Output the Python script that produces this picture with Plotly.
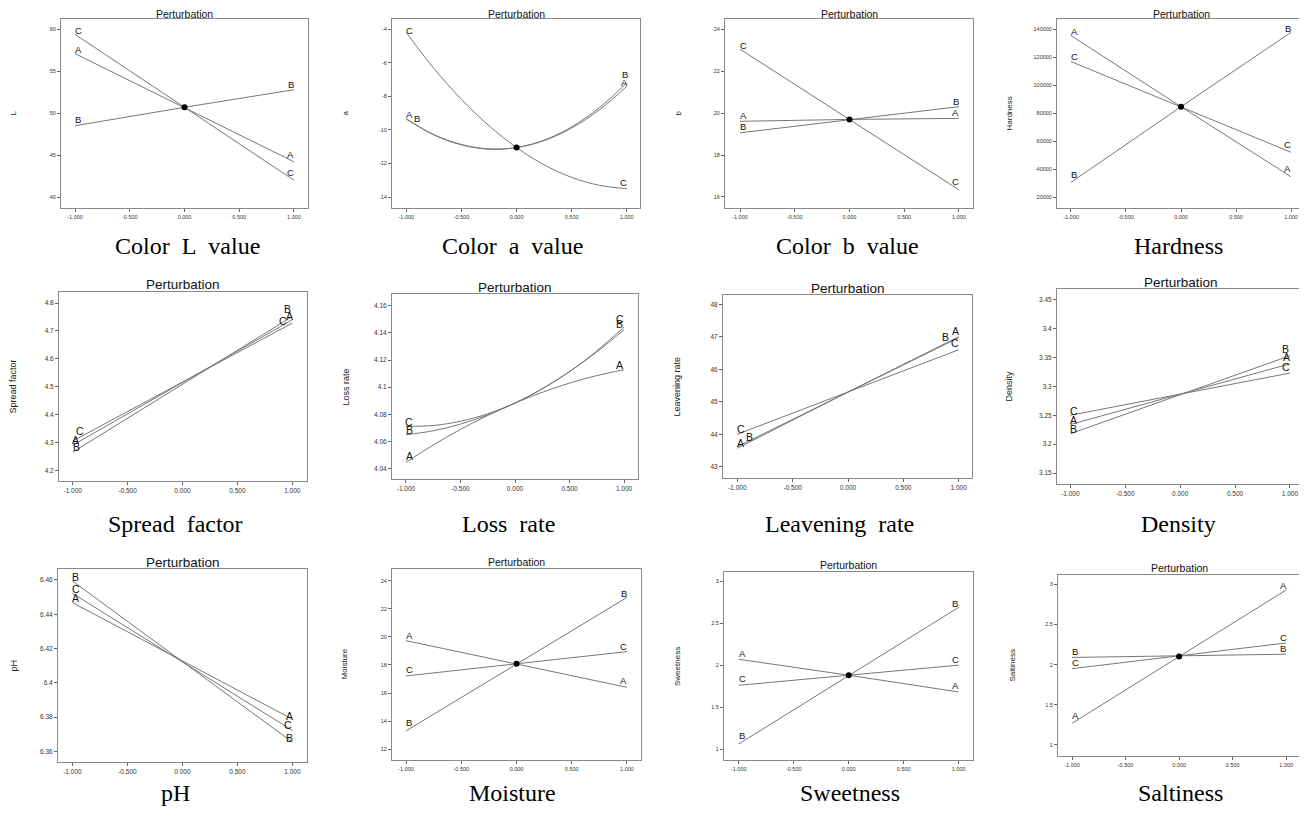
import plotly.graph_objects as go

# page body has an 8px default margin; the figure is laid out in page pixels minus that offset
OFF = 8
W, H = 1299, 810

# ---------------- data ----------------
x_lin = [-1.0, 0.0, 1.0]
x_cur = [-1.0, -0.75, -0.5, -0.25, 0.0, 0.25, 0.5, 0.75, 1.0]
x_tick_vals = [-1.0, -0.5, 0.0, 0.5, 1.0]
x_tick_text = ["-1.000", "-0.500", "0.000", "0.500", "1.000"]

captions = ["Color\u00a0 L\u00a0 value", "Color\u00a0 a\u00a0 value", "Color\u00a0 b\u00a0 value", "Hardness",
            "Spread\u00a0 factor", "Loss\u00a0 rate", "Leavening\u00a0 rate", "Density",
            "pH", "Moisture", "Sweetness", "Saltiness"]
y_titles = ["L", "a", "b", "Hardness", "Spread factor", "Loss rate", "Leavening rate", "Density",
            "pH", "Moisture", "Sweetness", "Saltiness"]

L_A = [57.1, 50.7, 44.2]
L_B = [48.5, 50.7, 52.8]
L_C = [59.4, 50.7, 42.0]

a_A = [-9.35, -10.28, -10.87, -11.13, -11.05, -10.64, -9.89, -8.81, -7.40]
a_B = [-9.35, -10.30, -10.89, -11.15, -11.05, -10.61, -9.82, -8.68, -7.20]
a_C = [-4.20, -6.33, -8.18, -9.75, -11.05, -12.08, -12.83, -13.30, -13.50]

b_A = [19.61, 19.70, 19.75]
b_B = [19.06, 19.70, 20.31]
b_C = [23.05, 19.70, 16.34]

hard_A = [135500, 84600, 34500]
hard_B = [30500, 84600, 137800]
hard_C = [116900, 84600, 52000]

spread_A = [4.290, 4.515, 4.740]
spread_B = [4.265, 4.510, 4.752]
spread_C = [4.305, 4.515, 4.728]

loss_A = [4.0447, 4.0574, 4.0689, 4.0792, 4.0883, 4.0962, 4.1030, 4.1085, 4.1129]
loss_B = [4.0650, 4.0679, 4.0728, 4.0796, 4.0883, 4.0989, 4.1115, 4.1259, 4.1423]
loss_C = [4.0712, 4.0718, 4.0749, 4.0804, 4.0883, 4.0987, 4.1114, 4.1267, 4.1443]

leav_A = [43.57, 45.30, 47.00]
leav_B = [43.62, 45.30, 46.97]
leav_C = [44.00, 45.30, 46.60]

dens_A = [3.234, 3.286, 3.339]
dens_B = [3.218, 3.286, 3.353]
dens_C = [3.250, 3.286, 3.323]

ph_A = [6.4468, 6.4127, 6.3788]
ph_B = [6.4594, 6.4124, 6.3654]
ph_C = [6.4522, 6.4122, 6.3722]

moist_A = [19.73, 18.08, 16.41]
moist_B = [13.31, 18.08, 22.81]
moist_C = [17.22, 18.08, 18.95]

sweet_A = [2.07, 1.88, 1.68]
sweet_B = [1.06, 1.88, 2.69]
sweet_C = [1.76, 1.88, 2.00]

salt_A = [1.27, 2.10, 2.93]
salt_B = [2.09, 2.11, 2.13]
salt_C = [1.95, 2.11, 2.27]

L_ticks = [40, 45, 50, 55, 60]
a_ticks = [-14, -12, -10, -8, -6, -4]
b_ticks = [16, 18, 20, 22, 24]
hard_ticks = [20000, 40000, 60000, 80000, 100000, 120000, 140000]
spread_ticks = [4.2, 4.3, 4.4, 4.5, 4.6, 4.7, 4.8]
loss_ticks = [4.04, 4.06, 4.08, 4.10, 4.12, 4.14, 4.16]
loss_tick_text = ["4.04", "4.06", "4.08", "4.1", "4.12", "4.14", "4.16"]
leav_ticks = [43, 44, 45, 46, 47, 48]
dens_ticks = [3.15, 3.20, 3.25, 3.30, 3.35, 3.40, 3.45]
dens_tick_text = ["3.15", "3.2", "3.25", "3.3", "3.35", "3.4", "3.45"]
ph_ticks = [6.36, 6.38, 6.40, 6.42, 6.44, 6.46]
ph_tick_text = ["6.36", "6.38", "6.4", "6.42", "6.44", "6.46"]
moist_ticks = [12, 14, 16, 18, 20, 22, 24]
taste_ticks = [1.0, 1.5, 2.0, 2.5, 3.0]
taste_tick_text = ["1", "1.5", "2", "2.5", "3"]

# ---------------- panel setup ----------------
panels = [
    dict(x=x_lin, s={"A": L_A, "B": L_B, "C": L_C}, yt=L_ticks, ytt=[str(v) for v in L_ticks], dot=True),
    dict(x=x_cur, s={"A": a_A, "B": a_B, "C": a_C}, yt=a_ticks, ytt=[str(v) for v in a_ticks], dot=True, curve=True),
    dict(x=x_lin, s={"A": b_A, "B": b_B, "C": b_C}, yt=b_ticks, ytt=[str(v) for v in b_ticks], dot=True),
    dict(x=x_lin, s={"A": hard_A, "B": hard_B, "C": hard_C}, yt=hard_ticks, ytt=[str(v) for v in hard_ticks], dot=True),
    dict(x=x_lin, s={"A": spread_A, "B": spread_B, "C": spread_C}, yt=spread_ticks, ytt=[f"{v:.1f}" for v in spread_ticks], dot=False),
    dict(x=x_cur, s={"A": loss_A, "B": loss_B, "C": loss_C}, yt=loss_ticks, ytt=loss_tick_text, dot=False, curve=True),
    dict(x=x_lin, s={"A": leav_A, "B": leav_B, "C": leav_C}, yt=leav_ticks, ytt=[str(v) for v in leav_ticks], dot=False),
    dict(x=x_lin, s={"A": dens_A, "B": dens_B, "C": dens_C}, yt=dens_ticks, ytt=dens_tick_text, dot=False),
    dict(x=x_lin, s={"A": ph_A, "B": ph_B, "C": ph_C}, yt=ph_ticks, ytt=ph_tick_text, dot=False),
    dict(x=x_lin, s={"A": moist_A, "B": moist_B, "C": moist_C}, yt=moist_ticks, ytt=[str(v) for v in moist_ticks], dot=True),
    dict(x=x_lin, s={"A": sweet_A, "B": sweet_B, "C": sweet_C}, yt=taste_ticks, ytt=taste_tick_text, dot=True),
    dict(x=x_lin, s={"A": salt_A, "B": salt_B, "C": salt_C}, yt=taste_ticks, ytt=taste_tick_text, dot=True),
]

# geometry in page pixels: box (left, right, top, bottom), axis ranges
geom = [
    dict(box=(61, 308, 19, 208), xr=(-1.128, 1.128), yr=(38.69, 61.23)),
    dict(box=(392, 640, 19, 208), xr=(-1.13, 1.12), yr=(-14.656, -3.386)),
    dict(box=(725, 973, 19, 208), xr=(-1.137, 1.128), yr=(15.475, 24.49)),
    dict(box=(1057, 1305, 19, 208), xr=(-1.127, 1.127), yr=(12128, 147370)),
    dict(box=(59, 307, 292, 481), xr=(-1.125, 1.134), yr=(4.1616, 4.8395)),
    dict(box=(392, 638, 294, 479), xr=(-1.128, 1.128), yr=(4.0324, 4.1686)),
    dict(box=(723, 972, 295, 478), xr=(-1.13, 1.121), yr=(42.653, 48.286)),
    dict(box=(1057, 1304, 289, 484), xr=(-1.122, 1.128), yr=(3.131, 3.4685)),
    dict(box=(58, 307, 569, 762), xr=(-1.131, 1.133), yr=(6.3538, 6.4664)),
    dict(box=(392, 641, 569, 760), xr=(-1.127, 1.127), yr=(11.24, 24.83)),
    dict(box=(724, 973, 572, 760), xr=(-1.134, 1.13), yr=(0.869, 3.111)),
    dict(box=(1058, 1301, 575, 756), xr=(-1.131, 1.138), yr=(0.863, 3.116)),
]
ytitle_x = [13, 345, 678, 1009, 13, 346, 677, 1009, 13, 344, 677, 1012]
cap_pos = [(187, 246), (513, 246), (847, 246), (1178, 246),
           (175, 524), (508, 524), (839, 524), (1178, 524),
           (175, 793), (513, 793), (850, 793), (1180, 793)]
big = [False, False, False, False, True, True, True, True, True, False, False, False]

# label overrides: (panel, series, side) -> (x, yshift)
label_over = {
    (1, "B", 0): (-0.90, 7),
    (1, "B", 1): (0.98, 10), (1, "A", 1): (0.98, 6),
    (4, "C", 0): (-0.93, 6), (4, "A", 0): (-0.975, 4), (4, "B", 0): (-0.97, 3),
    (4, "B", 1): (0.955, 10), (4, "A", 1): (0.97, 6), (4, "C", 1): (0.915, 7),
    (5, "C", 0): (-0.97, 4), (5, "B", 0): (-0.97, 4), (5, "A", 0): (-0.97, 4),
    (5, "C", 1): (0.96, 12), (5, "B", 1): (0.96, 9), (5, "A", 1): (0.96, 6),
    (6, "B", 0): (-0.895, 4), (6, "A", 0): (-0.97, 4), (6, "C", 0): (-0.97, 4),
    (6, "B", 1): (0.88, 7), (6, "A", 1): (0.97, 7), (6, "C", 1): (0.965, 8),
    (7, "A", 0): (-0.97, 4), (7, "B", 0): (-0.97, 4), (7, "C", 0): (-0.97, 4),
    (7, "B", 1): (0.96, 8), (7, "A", 1): (0.965, 8), (7, "C", 1): (0.96, 7),
    (8, "A", 1): (0.97, 1), (8, "C", 1): (0.96, 3), (8, "B", 1): (0.97, 2),
}

LINE_COLOR = "#777777"
FRAME_COLOR = "#8a8a8a"
SANS = "Liberation Sans, Arial, sans-serif"
SERIF = "Liberation Serif, Times New Roman, serif"


def px_x(v):
    return (v - OFF) / W


def px_y(v):
    return 1 - (v - OFF) / H


fig = go.Figure()
annotations = []
layout = {}

for i, (p, g) in enumerate(zip(panels, geom)):
    n = i + 1
    sfx = "" if n == 1 else str(n)
    xa, ya = "x" + sfx, "y" + sfx
    l, r, t, b = g["box"]
    tick_size = 6.5 if big[i] else 5.5
    layout["xaxis" + sfx] = dict(
        domain=[px_x(l), min(px_x(r), 1.0)], anchor=ya, range=list(g["xr"]),
        tickvals=x_tick_vals, ticktext=x_tick_text,
        tickfont=dict(family=SANS, size=tick_size, color="#333"),
        ticks="outside", ticklen=3, tickcolor="#666", tickwidth=1,
        showline=True, linecolor=FRAME_COLOR, linewidth=1, mirror=True,
        showgrid=False, zeroline=False, fixedrange=True,
    )
    layout["yaxis" + sfx] = dict(
        domain=[px_y(b), px_y(t)], anchor=xa, range=list(g["yr"]),
        tickvals=p["yt"], ticktext=p["ytt"],
        tickfont=dict(family=SANS, size=tick_size, color="#333"),
        ticks="outside", ticklen=3, tickcolor="#666", tickwidth=1,
        showline=True, linecolor=FRAME_COLOR, linewidth=1, mirror=True,
        showgrid=False, zeroline=False, fixedrange=True,
    )
    shape = "spline" if p.get("curve") else "linear"
    for name, ys in p["s"].items():
        fig.add_trace(go.Scatter(
            x=p["x"], y=ys, xaxis=xa, yaxis=ya, mode="lines",
            line=dict(color=LINE_COLOR, width=1, shape=shape),
            showlegend=False, hoverinfo="skip", name=name,
        ))
        xs = p["x"]
        for side in (0, 1):
            lx, ysh = label_over.get((i, name, side), (-0.97 if side == 0 else 0.97, 6))
            k = 0 if side == 0 else len(xs) - 2
            x0, x1 = xs[k], xs[k + 1]
            y0, y1 = ys[k], ys[k + 1]
            ly = y0 + (y1 - y0) * (lx - x0) / (x1 - x0)
            annotations.append(dict(
                x=lx, y=ly, xref=xa, yref=ya, text=name, showarrow=False,
                yshift=ysh, font=dict(family=SANS, size=10.5 if big[i] else 9.5, color="#111"),
            ))
    if p["dot"]:
        c = p["x"].index(0.0)
        fig.add_trace(go.Scatter(
            x=[0.0], y=[p["s"]["A"][c]], xaxis=xa, yaxis=ya, mode="markers",
            marker=dict(color="black", size=6), showlegend=False, hoverinfo="skip",
        ))
    # panel title (kept inside the figure's top edge)
    title_y = max(t - 7, OFF + 6.5)
    annotations.append(dict(
        x=px_x((l + r) / 2), y=px_y(title_y), xref="paper", yref="paper",
        text="Perturbation", showarrow=False, xanchor="center", yanchor="middle",
        font=dict(family=SANS, size=13.5 if big[i] else 10.5, color="#111"),
    ))
    # y-axis title
    annotations.append(dict(
        x=px_x(ytitle_x[i]), y=px_y((t + b) / 2), xref="paper", yref="paper",
        text=y_titles[i], showarrow=False, textangle=-90, xanchor="center", yanchor="middle",
        font=dict(family=SANS, size=9 if big[i] else 8, color="#222"),
    ))
    # caption under the panel
    cx, cy = cap_pos[i]
    annotations.append(dict(
        x=px_x(cx), y=px_y(cy), xref="paper", yref="paper",
        text=captions[i], showarrow=False, xanchor="center", yanchor="middle",
        font=dict(family=SERIF, size=24, color="#000"),
    ))

fig.update_layout(
    width=W, height=H, margin=dict(l=0, r=0, t=0, b=0),
    paper_bgcolor="white", plot_bgcolor="white",
    annotations=annotations, **layout,
)

fig.write_html("out.html", config={"displayModeBar": False})
